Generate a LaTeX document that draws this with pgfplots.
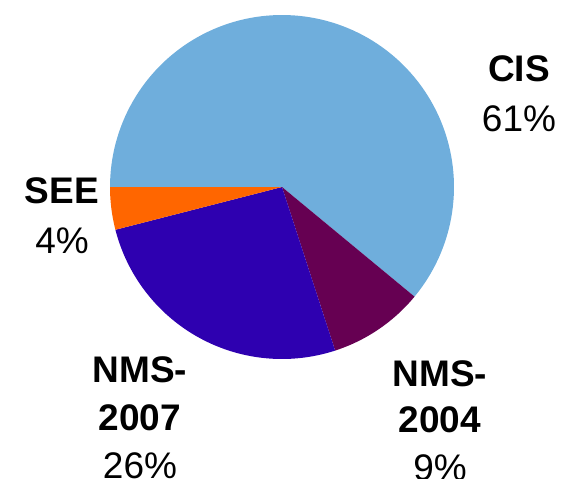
\documentclass[border=0pt]{standalone}
\usepackage{pgfplots}
\usepackage{pgfplotstable}
\pgfplotsset{compat=1.18}
\usepackage{fontspec}
\setmainfont{Liberation Sans}
\definecolor{cis}{RGB}{111,174,220}
\definecolor{nmsa}{RGB}{102,0,82}
\definecolor{nmsb}{RGB}{46,0,176}
\definecolor{see}{RGB}{255,102,0}
\pgfplotstableread{
label value
CIS 61
NMS-2004 9
NMS-2007 26
SEE 4
}\piedata
\begin{document}
\begin{tikzpicture}
\pgfplotstablegetelem{0}{value}\of\piedata \pgfmathsetmacro\vA{\pgfplotsretval}
\pgfplotstablegetelem{1}{value}\of\piedata \pgfmathsetmacro\vB{\pgfplotsretval}
\pgfplotstablegetelem{2}{value}\of\piedata \pgfmathsetmacro\vC{\pgfplotsretval}
\pgfplotstablegetelem{3}{value}\of\piedata \pgfmathsetmacro\vD{\pgfplotsretval}
\pgfmathsetmacro\aA{180}
\pgfmathsetmacro\aB{\aA-3.6*\vA}
\pgfmathsetmacro\aC{\aB-3.6*\vB}
\pgfmathsetmacro\aD{\aC-3.6*\vC}
\pgfmathsetmacro\aE{\aD-3.6*\vD}
\def\cx{282}\def\cy{187}\def\r{172}
\begin{axis}[at={(0,0)}, anchor=south west, width=563pt, height=479pt,
  scale only axis, xmin=0, xmax=563, ymin=0, ymax=479, y dir=reverse,
  hide axis, clip=false]
\addplot[fill=cis, draw=none, domain=\aB:\aA, samples=120, variable=\t]
  ({\cx+\r*cos(\t)}, {\cy-\r*sin(\t)}) -- (axis cs:\cx,\cy) -- cycle;
\addplot[fill=nmsa, draw=none, domain=\aC:\aB, samples=40, variable=\t]
  ({\cx+\r*cos(\t)}, {\cy-\r*sin(\t)}) -- (axis cs:\cx,\cy) -- cycle;
\addplot[fill=nmsb, draw=none, domain=\aD:\aC, samples=80, variable=\t]
  ({\cx+\r*cos(\t)}, {\cy-\r*sin(\t)}) -- (axis cs:\cx,\cy) -- cycle;
\addplot[fill=see, draw=none, domain=\aE:\aD, samples=20, variable=\t]
  ({\cx+\r*cos(\t)}, {\cy-\r*sin(\t)}) -- (axis cs:\cx,\cy) -- cycle;
\begin{scope}[every node/.style={anchor=base, inner sep=0pt, font=\fontsize{37}{44}\selectfont}]
\node at (axis cs:519,81) {\bfseries CIS};
\node at (axis cs:519,131) {61\%};
\node at (axis cs:62,203) {\bfseries SEE};
\node at (axis cs:62,253) {4\%};
\node at (axis cs:140,382) {\bfseries NMS-};
\node at (axis cs:140,430) {\bfseries 2007};
\node at (axis cs:140,478) {26\%};
\node at (axis cs:440,386) {\bfseries NMS-};
\node at (axis cs:440,432) {\bfseries 2004};
\node at (axis cs:440,480) {9\%};
\end{scope}
\end{axis}
\pgfresetboundingbox
\path[use as bounding box] (0,0) rectangle (563pt,479pt);
\end{tikzpicture}
\end{document}
